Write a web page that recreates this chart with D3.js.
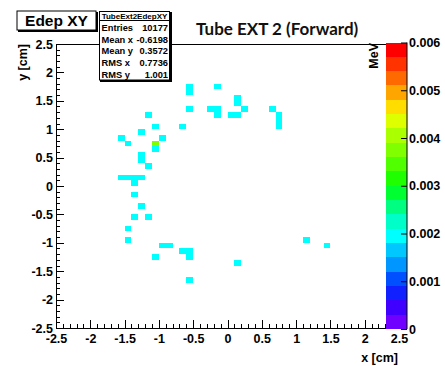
<!DOCTYPE html>
<html><head><meta charset="utf-8">
<script src="https://cdn.jsdelivr.net/npm/d3@7"></script>
<style>html,body{margin:0;padding:0;background:#fff;} svg{display:block;}</style>
</head><body>
<script>
// bin low edges (cm) and deposited energy (MeV) of the filled 0.1 x 0.1 cm bins
const cellX = [-0.6,-0.6,-0.2,0.1,0.1,-0.6,-0.3,-0.2,-0.2,0.0,0.1,0.2,0.6,0.7,0.7,0.7,
  -1.2,-1.1,-0.7,-1.3,-1.6,-1.5,-1.0,-1.1,-1.3,-1.3,-1.2,-1.6,-1.5,-1.4,-1.3,-1.4,
  -1.4,-1.3,-1.4,-1.2,-1.5,-1.5,-1.0,-0.9,-0.7,-0.6,-0.6,-1.1,0.1,-0.6,1.1,1.4,-1.1];
const cellY = [1.7,1.6,1.7,1.5,1.4,1.3,1.3,1.3,1.2,1.2,1.2,1.3,1.3,1.2,1.1,1.0,
  1.2,1.0,1.0,0.9,0.8,0.7,0.8,0.6,0.5,0.4,0.3,0.1,0.1,0.1,0.1,0.0,
  -0.2,-0.4,-0.6,-0.6,-0.8,-1.0,-1.1,-1.1,-1.2,-1.2,-1.3,-1.3,-1.4,-1.7,-1.0,-1.1,0.7];
const cellE = [0.00195,0.00195,0.00195,0.00195,0.00195,0.00195,0.00195,0.00195,0.00195,0.00195,0.00195,0.00195,0.00195,0.00195,0.00195,0.00195,
  0.00195,0.00195,0.00195,0.00195,0.00195,0.00195,0.00195,0.00195,0.00195,0.00195,0.00195,0.00195,0.00195,0.00195,0.00195,0.00195,
  0.00195,0.00195,0.00195,0.00195,0.00195,0.00195,0.00195,0.00195,0.00195,0.00195,0.00195,0.00195,0.00195,0.00195,0.00195,0.00195,0.0038];
const binWidth = 0.1;
const xMajor = [-2.5,-2,-1.5,-1,-0.5,0,0.5,1,1.5,2,2.5];
const yMajor = [-2.5,-2,-1.5,-1,-0.5,0,0.5,1,1.5,2,2.5];
const zTicks = [0,0.001,0.002,0.003,0.004,0.005,0.006];
const palette = ["#7000FF","#4000FF","#1020FF","#0050FF","#0096FF","#00C8FF","#00FFFF",
  "#00FFC8","#00FF80","#00FF30","#20FF00","#50FF00","#80FF00","#AAFF00","#DDFF00",
  "#FFDD00","#FFA500","#FF6A00","#FF3300","#FF0000"];
const statsTitle = "TubeExt2EdepXY";
const statsLabels = ["Entries","Mean x","Mean y","RMS x","RMS y"];
const statsValues = ["10177","-0.6198","0.3572","0.7736","1.001"];

const W = 445, H = 366;
const svg = d3.select("body").append("svg").attr("width", W).attr("height", H)
  .style("font-family", "'Liberation Sans', Arial, sans-serif");

const x = d3.scaleLinear().domain([-2.5, 2.5]).range([56, 399]);
const y = d3.scaleLinear().domain([-2.5, 2.5]).range([328, 44]);
const zMax = 0.006;
const z = d3.scaleLinear().domain([0, zMax]).range([329, 42.5]);
const band = d3.scaleQuantize().domain([0, zMax]).range(palette);

// cells
const cells = cellX.map((cx, i) => ({x: cx, y: cellY[i], e: cellE[i]}));
svg.append("g").selectAll("rect").data(cells).join("rect")
  .attr("x", d => x(d.x)).attr("y", d => y(d.y + binWidth))
  .attr("width", d => x(d.x + binWidth) - x(d.x))
  .attr("height", d => y(d.y) - y(d.y + binWidth))
  .attr("fill", d => band(d.e)).attr("shape-rendering", "crispEdges");

// frame
svg.append("rect").attr("x", 56).attr("y", 44).attr("width", 343).attr("height", 284)
  .attr("fill", "none").attr("stroke", "#000").attr("shape-rendering", "crispEdges");

const minor = d3.range(-25, 26).map(i => i / 10).filter(v => Math.abs(v * 2 - Math.round(v * 2)) > 1e-6);
const fmt = d => String(d);

function styleAxis(g) {
  g.select(".domain").remove();
  g.selectAll("line").attr("stroke", "#000").attr("shape-rendering", "crispEdges");
  g.selectAll("text").attr("font-size", "12.5px").attr("font-weight", "bold").attr("fill", "#000")
    .attr("font-family", "'Liberation Sans', Arial, sans-serif");
}
svg.append("g").attr("transform", "translate(0,328)")
  .call(d3.axisBottom(x).tickValues(minor).tickSize(-4).tickFormat("")).call(styleAxis);
svg.append("g").attr("transform", "translate(0,328)")
  .call(d3.axisBottom(x).tickValues(xMajor).tickSize(-8).tickPadding(6).tickFormat(fmt)).call(styleAxis);
svg.append("g").attr("transform", "translate(56,0)")
  .call(d3.axisLeft(y).tickValues(minor).tickSize(-4).tickFormat("")).call(styleAxis);
svg.append("g").attr("transform", "translate(56,0)")
  .call(d3.axisLeft(y).tickValues(yMajor).tickSize(-8).tickPadding(3).tickFormat(fmt)).call(styleAxis);

// color bar
const bandEdges = d3.range(palette.length + 1).map(i => i * zMax / palette.length);
svg.append("g").selectAll("rect").data(palette).join("rect")
  .attr("x", 386).attr("width", 21)
  .attr("y", (c, i) => z(bandEdges[i + 1])).attr("height", (c, i) => z(bandEdges[i]) - z(bandEdges[i + 1]))
  .attr("fill", c => c).attr("shape-rendering", "crispEdges");
svg.append("g").attr("transform", "translate(407,0)")
  .call(d3.axisRight(z).tickValues(zTicks).tickSize(-6).tickPadding(2).tickFormat(fmt))
  .call(g => { g.select(".domain").attr("stroke", "#000"); })
  .call(g => { g.selectAll("line").attr("stroke", "#000");
    g.selectAll("text").attr("font-size", "12.5px").attr("font-weight", "bold").attr("fill", "#000")
     .attr("font-family", "'Liberation Sans', Arial, sans-serif"); });
svg.select("g:last-child .domain").attr("d", "M0,42.5V329");

// axis titles
svg.append("text").attr("x", 398).attr("y", 362).attr("text-anchor", "end")
  .attr("font-size", "12.5px").attr("font-weight", "bold").text("x [cm]");
svg.append("text").attr("transform", "translate(27,44) rotate(-90)").attr("text-anchor", "end")
  .attr("font-size", "12.5px").attr("font-weight", "bold").text("y [cm]");
svg.append("text").attr("transform", "translate(378,43) rotate(-90)").attr("text-anchor", "end")
  .attr("font-size", "12.5px").attr("font-weight", "bold").text("MeV");

// title
svg.append("text").attr("x", 196).attr("y", 35).attr("font-family", "Lato, sans-serif")
  .attr("font-weight", "bold").attr("font-size", "17px").attr("fill", "#111").text("Tube EXT 2 (Forward)");

// name box
svg.append("rect").attr("x", 18).attr("y", 12).attr("width", 80).attr("height", 20).attr("fill", "#000");
svg.append("rect").attr("x", 17).attr("y", 11).attr("width", 79).attr("height", 19)
  .attr("fill", "#fff").attr("stroke", "#000").attr("stroke-width", 1);
svg.append("text").attr("x", 56.5).attr("y", 26).attr("text-anchor", "middle")
  .attr("font-size", "15.5px").attr("font-weight", "bold").text("Edep XY");

// stats box
svg.append("rect").attr("x", 100).attr("y", 12).attr("width", 72).attr("height", 70).attr("fill", "#000");
svg.append("rect").attr("x", 99.5).attr("y", 11.5).attr("width", 70).attr("height", 68.5)
  .attr("fill", "#fff").attr("stroke", "#000").attr("stroke-width", 1);
svg.append("line").attr("x1", 99.5).attr("x2", 169.5).attr("y1", 20.5).attr("y2", 20.5).attr("stroke", "#000");
svg.append("text").attr("x", 134.5).attr("y", 18.5).attr("text-anchor", "middle")
  .attr("font-size", "8px").attr("font-weight", "bold").text(statsTitle);
const rows = svg.append("g").selectAll("g").data(statsLabels).join("g")
  .attr("transform", (d, i) => `translate(0,${30.8 + i * 11.7})`);
rows.append("text").attr("x", 101.5).attr("font-size", "9.3px").attr("font-weight", "bold").text(d => d);
rows.append("text").attr("x", 168).attr("text-anchor", "end").attr("font-size", "9.3px")
  .attr("font-weight", "bold").text((d, i) => statsValues[i]);
</script>
</body></html>
